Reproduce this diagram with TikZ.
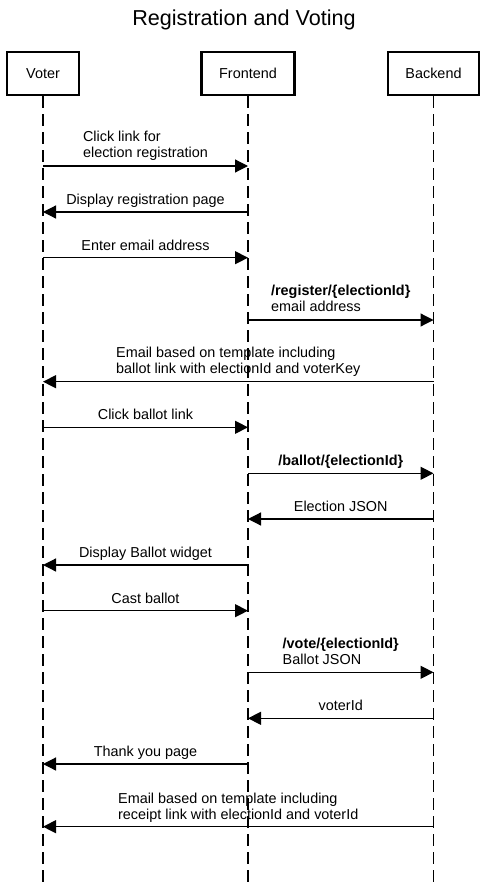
\documentclass[tikz,border=0pt]{standalone}
\usepackage{fontspec}
\setmainfont{Liberation Sans}
\usetikzlibrary{arrows.meta}

\begin{document}
\begin{tikzpicture}[x=1pt,y=1pt,
  every node/.style={font=\fontsize{14.4}{16}\selectfont},
  actor/.style={draw, line width=2.4pt, minimum height=42.6pt, inner sep=0pt},
  life/.style={line width=1.2pt, dash pattern=on 12pt off 6pt},
  msg/.style={line width=1.2pt, -{Triangle[length=13pt,width=13pt]}},
  lbl/.style={anchor=south, align=left, inner sep=0pt, text depth=0pt, yshift=7pt}]
\useasboundingbox (0,0) rectangle (487,-883);

\node[anchor=base, font=\fontsize{21.6}{26}\selectfont] (title) at (244,-26) {Registration and Voting};

% participants
\node[actor, minimum width=72pt] (voter) at (43,-73.5) {Voter};
\node[actor, minimum width=93pt] (front) at (248,-73.5) {Frontend};
\node[actor, minimum width=91pt] (back) at (433.5,-73.5) {Backend};

% lifelines
\coordinate (voterEnd) at (voter.south |- 0,-882);
\coordinate (frontEnd) at (front.south |- 0,-882);
\coordinate (backEnd) at (back.south |- 0,-882);
\draw[life] (voter.south) -- (voterEnd);
\draw[life] (front.south) -- (frontEnd);
\draw[life] (back.south) -- (backEnd);

% registration
\draw[msg] (voter |- 0,-166) -- node[lbl, yshift=1pt] {Click link for\\election registration} (front |- 0,-166);
\draw[msg] (front |- 0,-212) -- node[lbl] {Display registration page} (voter |- 0,-212);
\draw[msg] (voter |- 0,-257.7) -- node[lbl] {Enter email address} (front |- 0,-257.7);
\draw[msg] (front |- 0,-320) -- node[lbl, yshift=1pt] {\textbf{/register/\{electionId\}}\\email address} (back |- 0,-320);
\draw[msg] (back |- 0,-381.7) -- node[lbl, yshift=1pt] {Email based on template including\\ballot link with electionId and voterKey} (voter |- 0,-381.7);

% voting
\draw[msg] (voter |- 0,-427.3) -- node[lbl] {Click ballot link} (front |- 0,-427.3);
\draw[msg] (front |- 0,-473.3) -- node[lbl] {\textbf{/ballot/\{electionId\}}} (back |- 0,-473.3);
\draw[msg] (back |- 0,-519) -- node[lbl] {Election JSON} (front |- 0,-519);
\draw[msg] (front |- 0,-565) -- node[lbl] {Display Ballot widget} (voter |- 0,-565);
\draw[msg] (voter |- 0,-610.7) -- node[lbl] {Cast ballot} (front |- 0,-610.7);
\draw[msg] (front |- 0,-672.3) -- node[lbl] {\textbf{/vote/\{electionId\}}\\Ballot JSON} (back |- 0,-672.3);
\draw[msg] (back |- 0,-718.3) -- node[lbl] {voterId} (front |- 0,-718.3);
\draw[msg] (front |- 0,-764) -- node[lbl] {Thank you page} (voter |- 0,-764);
\draw[msg] (back |- 0,-826.7) -- node[lbl] {Email based on template including\\receipt link with electionId and voterId} (voter |- 0,-826.7);
\end{tikzpicture}
\end{document}
